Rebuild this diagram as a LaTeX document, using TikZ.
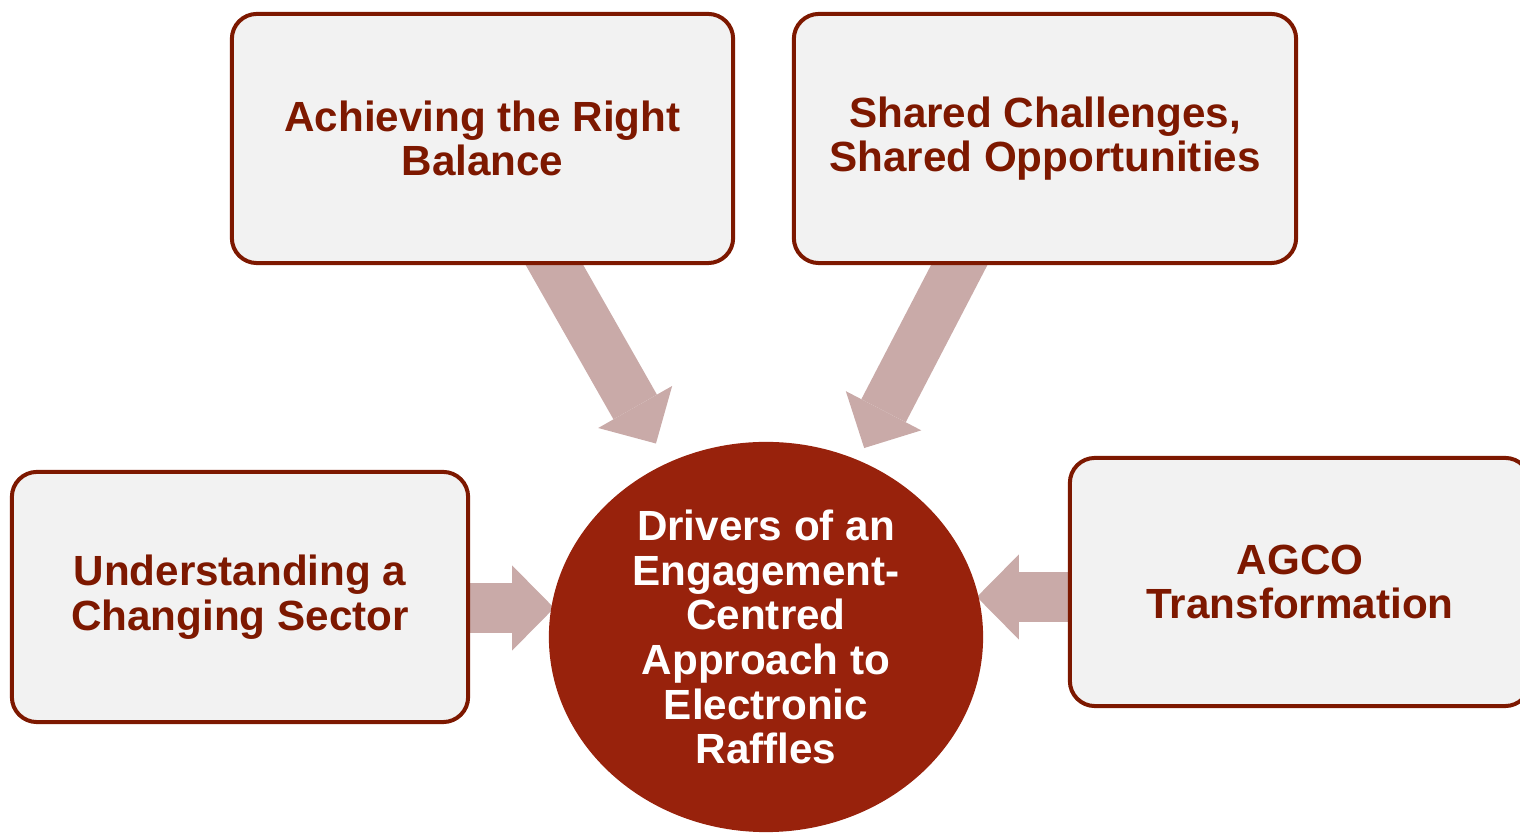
\documentclass[tikz,border=0pt]{standalone}
\usepackage{fontspec}
\setmainfont{Liberation Sans}
\usetikzlibrary{calc,positioning,arrows.meta,backgrounds,shapes.geometric}

\begin{document}
\begin{tikzpicture}[x=0.01cm,y=-0.01cm]
            \definecolor{rim}{RGB}{125,24,0}
            \definecolor{disc}{RGB}{152,34,12}
            \definecolor{pnk}{RGB}{201,170,168}
            \definecolor{gry}{RGB}{242,242,242}

            \useasboundingbox (0,0) rectangle (1520,834);

            \begin{scope}[
                every node/.style={draw=rim,fill=gry,line width=0.04cm,rounded corners=0.25cm,
                    text=rim,align=center,font=\fontsize{12pt}{12.7pt}\selectfont\bfseries}
            ]
                \node (tl) [minimum width=5.01cm,minimum height=2.49cm] at (482.5,138.5)
                    {Achieving the Right\\Balance};
                \node (tr) [minimum width=5.02cm,minimum height=2.49cm] at (1045,138.5)
                    {Shared Challenges,\\Shared Opportunities};
                \node (lb) [minimum width=4.56cm,minimum height=2.5cm] at (240,597)
                    {Understanding a\\Changing Sector};
                \node (rb) [minimum width=4.6cm,minimum height=2.48cm] at (1300,582)
                    {AGCO\\Transformation};
            \end{scope}

            \node (ctr) [ellipse,fill=disc,minimum width=4.34cm,minimum height=3.9cm,inner sep=0pt,
                text=white,align=center,font=\fontsize{12pt}{12.7pt}\selectfont\bfseries] at (766,637)
                {Drivers of an\\Engagement-\\Centred\\Approach to\\Electronic\\Raffles};

            \begin{pgfonlayer}{background}
                \begin{scope}[
                    line width=0.5cm,pnk,
                    -{Triangle[width=0.85cm,length=0.42cm,line width=0pt]}
                ]
                    \draw [shorten >=0.22cm] (tl.center) -- (ctr);
                    \draw [shorten >=0.13cm] ([xshift=-0.2cm]tr.center) -- (ctr);
                    \draw ($(lb.center)+(0,11)$) -- ($(lb.center -| ctr.west)+(6,11)$);
                    \draw ($(rb.center)+(0,15)$) -- ($(rb.center -| ctr.east)+(-7,15)$);
                \end{scope}
            \end{pgfonlayer}
        \end{tikzpicture}
\end{document}
